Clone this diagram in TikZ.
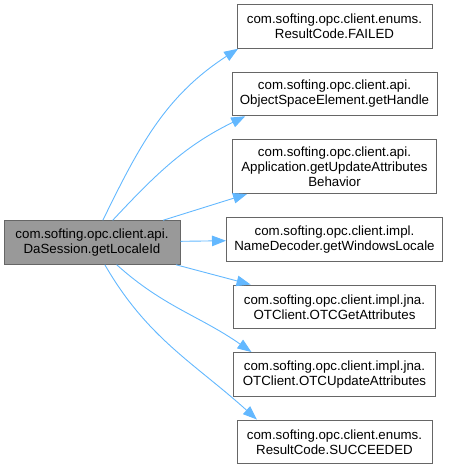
\documentclass[tikz,border=0pt]{standalone}
\usepackage{fontspec}
\setmainfont{Liberation Sans}
\usetikzlibrary{positioning,arrows.meta}
\definecolor{edgeblue}{HTML}{63B8FF}
\definecolor{nodegray}{HTML}{999999}
\definecolor{bordergray}{HTML}{666666}
\tikzstyle{block} = [draw=bordergray, fill=white, rectangle, align=center,
    line width=1pt, minimum height=43.5pt, inner xsep=3pt, inner ysep=7pt,
    font=\fontsize{13.3}{15}\selectfont]
\tikzstyle{focus} = [block, fill=nodegray]
\tikzstyle{call} = [draw=edgeblue, line width=0.9pt]

\begin{document}
\begin{tikzpicture}[x=1pt, y=1pt, node distance=23pt, >={Triangle[length=14pt,width=10.5pt]}]
    \useasboundingbox (0,0) rectangle (448,-469);
    % We start with the method itself
    \node [focus, minimum width=176pt] (locale) at (92,-242.5) {com.softing.opc.client.api.\\DaSession.getLocaleId};
    % Then the methods it calls, one column on the right
    \node [block, minimum width=195pt] (failed) at (334.5,-26.5) {com.softing.opc.client.enums.\\ResultCode.FAILED};
    \node [block, minimum width=205pt, below=of failed] (handle) {com.softing.opc.client.api.\\ObjectSpaceElement.getHandle};
    \node [block, minimum width=204pt, below=of handle] (behavior) {com.softing.opc.client.api.\\Application.getUpdateAttributes\\Behavior};
    \node [block, minimum width=216pt, below=of behavior] (windows) {com.softing.opc.client.impl.\\NameDecoder.getWindowsLocale};
    \node [block, minimum width=202pt, below=of windows] (getattr) {com.softing.opc.client.impl.jna.\\OTClient.OTCGetAttributes};
    \node [block, minimum width=202pt, below=of getattr] (updattr) {com.softing.opc.client.impl.jna.\\OTClient.OTCUpdateAttributes};
    \node [block, minimum width=195pt, below=of updattr] (succeeded) {com.softing.opc.client.enums.\\ResultCode.SUCCEEDED};
    % We draw the calls
    \draw [call, ->] (locale) to[out=64, in=213] (failed.193);
    \draw [call, ->] (locale) to[out=47, in=206] (handle.194);
    \draw [call, ->] (locale) -- (behavior);
    \draw [call, ->] (locale) -- (windows);
    \draw [call, ->] (locale) -- (getattr);
    \draw [call, ->] (locale) to[out=-42, in=145] (updattr.165);
    \draw [call, ->] (locale) to[out=-60, in=138] (succeeded.164);
\end{tikzpicture}
\end{document}
